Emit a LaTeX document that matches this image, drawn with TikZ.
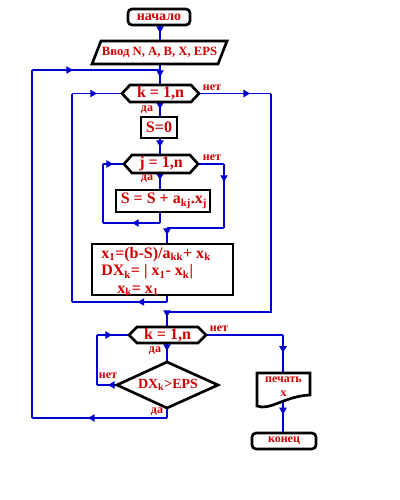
\documentclass[tikz,border=0pt]{standalone}
\usepackage{fontspec}
\setmainfont{Liberation Serif}
\usetikzlibrary{arrows.meta,decorations.markings}
\definecolor{lred}{RGB}{210,0,0}
\definecolor{lblue}{RGB}{0,0,210}
\newcommand{\hexa}[6]{%
  \draw[shp] ({#2-#4},#3) -- ({#2-#4+8},{#3-#5}) -- ({#2+#4-8},{#3-#5}) -- ({#2+#4},#3) -- ({#2+#4-8},{#3+#5}) -- ({#2-#4+8},{#3+#5}) -- cycle;
  \node[txt] (#1) at (#2,#3) {#6};
  \coordinate (#1-w) at ({#2-#4},#3);
  \coordinate (#1-e) at ({#2+#4},#3);
}
\begin{document}
\begin{tikzpicture}[x=0.75pt,y=-0.75pt,
  shp/.style={draw=black,line width=2pt,fill=white},
  flow/.style={color=lblue,line width=0.9pt},
  ma/.style={decoration={markings,mark=at position #1 with {\arrow{Triangle[length=5pt,width=5.5pt]}}},postaction=decorate},
  ma/.default=0.5,
  txt/.style={text=lred,font=\bfseries\fontsize{12}{13}\selectfont,inner sep=0pt},
  lab/.style={text=lred,font=\bfseries\fontsize{9}{10}\selectfont,inner sep=0pt},
  small/.style={text=lred,font=\bfseries\fontsize{9}{10.5}\selectfont,inner sep=0pt,align=center},
]
\useasboundingbox (0,0) rectangle (400,500);

% ---------- connectors ----------
\coordinate (start-s) at (160,25);
\coordinate (inp-n) at (160,41);
\coordinate (inp-s) at (160,64);
\coordinate (h1-n) at (160,85);
\coordinate (h1-s) at (160,102);
\coordinate (s0-n) at (160,117);
\coordinate (s0-s) at (160,138);
\coordinate (h2-n) at (160,155);
\coordinate (h2-s) at (160,173);
\coordinate (sum-n) at (160,190);
\coordinate (sum-s) at (160,212);
\coordinate (calc-n) at (167,244);
\coordinate (calc-s) at (167,295);
\coordinate (h3-n) at (167,327);
\coordinate (h3-s) at (167,343);
\coordinate (dec-n) at (167,362);
\coordinate (dec-s) at (167,408);
\coordinate (dec-w) at (117,385);
\coordinate (prn-n) at (283,373);
\coordinate (prn-s) at (283,402);
\coordinate (end-n) at (283,433);

\coordinate (j0) at (160,70);
\coordinate (d1) at (167,418);
\coordinate (d2) at (32,418);
\coordinate (d3) at (32,70);
\coordinate (n1) at (271,93.5);
\coordinate (n2) at (271,312);
\coordinate (n3) at (167,312);
\coordinate (l1) at (160,223);
\coordinate (l2) at (103,223);
\coordinate (l3) at (103,164);
\coordinate (r1) at (224,164);
\coordinate (r2) at (224,228);
\coordinate (r3) at (167,228);
\coordinate (c1) at (167,302);
\coordinate (c2) at (72,302);
\coordinate (c3) at (72,93.5);
\coordinate (e1) at (97,385);
\coordinate (e2) at (97,335);
\coordinate (f1) at (283,335);

\draw[flow,ma] (start-s) -- (inp-n);
\draw[flow,ma=0.62] (inp-s) -- (h1-n);
\draw[flow] (dec-s) -- (d1);
\draw[flow,ma=0.585] (d1) -- (d2);
\draw[flow] (d2) -- (d3);
\draw[flow,ma=0.32] (d3) -- (j0);
\draw[flow,ma=0.47] (h1-s) -- (s0-n);
\draw[flow,ma=0.71] (199,93.5) -- (n1);
\draw[flow] (n1) -- (n2) -- (n3);
\draw[flow,ma=0.33] (n3) -- (h3-n);
\draw[flow,ma=0.53] (s0-s) -- (h2-n);
\draw[flow,ma=0.41] (h2-s) -- (sum-n);
\draw[flow] (sum-s) -- (l1);
\draw[flow,ma=0.49] (l1) -- (l2);
\draw[flow] (l2) -- (l3);
\draw[flow,ma=0.48] (l3) -- (124,164);
\draw[flow] (198,164) -- (r1);
\draw[flow,ma=0.28] (r1) -- (r2);
\draw[flow] (r2) -- (r3);
\draw[flow,ma=0.44] (r3) -- (calc-n);
\draw[flow] (calc-s) -- (c1);
\draw[flow,ma=0.31] (c1) -- (c2);
\draw[flow] (c2) -- (c3);
\draw[flow,ma=0.5] (c3) -- (122,93.5);
\draw[flow,ma=0.42] (h3-s) -- (dec-n);
\draw[flow,ma=0.45] (dec-w) -- (e1);
\draw[flow] (e1) -- (e2);
\draw[flow,ma=0.47] (e2) -- (129,335);
\draw[flow] (206,335) -- (f1);
\draw[flow,ma=0.47] (f1) -- (prn-n);
\draw[flow,ma=0.4] (prn-s) -- (end-n);

% ---------- shapes ----------
\draw[shp,rounded corners=3pt] (128,9) rectangle (190,25);
\node[txt,font=\bfseries\fontsize{10.5}{12}\selectfont] (start) at (159,17) {начало};

\draw[shp] (92,64) -- (101,41) -- (227,41) -- (218,64) -- cycle;
\node[txt,font=\bfseries\fontsize{9.5}{11}\selectfont] (inp) at (159.5,52.5) {Ввод N, A, B, X, EPS};

\hexa{h1}{160.5}{93.5}{38.5}{8.5}{k = 1,n}

\draw[shp] (141,117) rectangle (177,138);
\node[txt] (s0) at (159,127.5) {S=0};

\hexa{h2}{161}{164}{37}{9}{j = 1,n}

\draw[shp] (116,190) rectangle (210,212);
\node[txt] (sum) at (164,201) {S = S + a\textsubscript{kj}.x\textsubscript{j}};

\draw[shp] (92,244) rectangle (233,295);
\node[txt,anchor=north west,align=left] (calc) at (101,247) {x\textsubscript{1}=(b-S)/a\textsubscript{kk}+ x\textsubscript{k}\\DX\textsubscript{k}= | x\textsubscript{1}- x\textsubscript{k}|\\\hspace*{12pt}x\textsubscript{k}= x\textsubscript{1}};

\hexa{h3}{167.5}{335}{38.5}{8}{k = 1,n}

\draw[shp] (167,362) -- (218,385) -- (167,408) -- (117,385) -- cycle;
\node[txt,font=\bfseries\fontsize{10.5}{12}\selectfont] (dec) at (168,385) {DX\textsubscript{k}>EPS};

\draw[shp] (257,406) -- (257,373) -- (310,373) -- (310,395) .. controls (285,396) and (270,411) .. (257,406) -- cycle;
\node[small] (prn) at (283.5,387) {печать\\x};

\draw[shp,rounded corners=3pt] (252,433) rectangle (316,449);
\node[small] (end) at (284,441) {конец};

% ---------- labels ----------
\node[lab] (l-n1) at (212,88) {нет};
\node[lab] (l-y1) at (147,110) {да};
\node[lab] (l-n2) at (212,158) {нет};
\node[lab] (l-y2) at (147,179) {да};
\node[lab] (l-n3) at (219,329) {нет};
\node[lab] (l-y3) at (155,351) {да};
\node[lab] (l-n4) at (108,376) {нет};
\node[lab] (l-y4) at (157,412) {да};
\end{tikzpicture}
\end{document}
